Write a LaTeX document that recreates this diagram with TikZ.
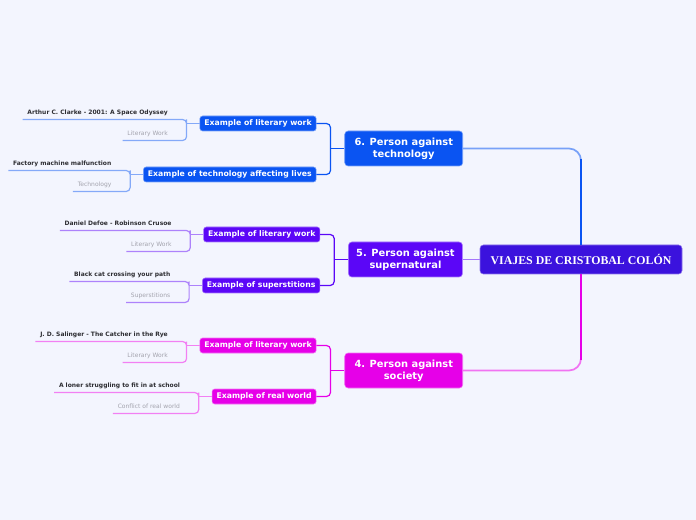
\documentclass[tikz,border=0pt]{standalone}
\usepackage{fontspec}
\setmainfont{DejaVu Sans}
\newfontfamily\rootfont{Liberation Serif}
\usepackage{tikz}
\usetikzlibrary{positioning, calc}

\definecolor{bgcol}{HTML}{F3F5FE}
\definecolor{rootcol}{HTML}{3B12DD}
\definecolor{techcol}{HTML}{0A54F2}
\definecolor{supcol}{HTML}{5B06F7}
\definecolor{soccol}{HTML}{E600E8}
\definecolor{leafcol}{HTML}{2E2E33}
\definecolor{notecol}{HTML}{A3A3AD}

\begin{document}
\begin{tikzpicture}[
      x=0.75pt, y=-0.75pt,
      rootbox/.style={rectangle, rounded corners=2.5pt, draw=rootcol!60!white,
                      line width=0.4pt, fill=rootcol, text=white,
                      font=\rootfont\bfseries\fontsize{8.9}{10}\selectfont,
                      minimum width=151.5pt, minimum height=21.75pt},
      topic/.style={rectangle, rounded corners=2.5pt, draw=#1!55!white,
                    line width=0.4pt, fill=#1, text=white, align=center,
                    font=\bfseries\fontsize{7.4}{9}\selectfont,
                    minimum height=26.25pt, anchor=east},
      subtopic/.style={rectangle, rounded corners=2pt, draw=#1!55!white,
                       line width=0.4pt, fill=#1, text=white,
                       font=\bfseries\fontsize{5.8}{7}\selectfont,
                       minimum height=11.25pt, inner xsep=3.4pt,
                       inner ysep=0pt, anchor=east},
      leaf/.style={font=\bfseries\fontsize{4.5}{5.5}\selectfont, text=leafcol,
                   inner xsep=3.4pt, inner ysep=2.5pt, text depth=1.2pt,
                   anchor=south east},
      note/.style={leaf, font=\fontsize{4.5}{5.5}\selectfont, text=notecol},
      trunk/.style={draw=#1!55!white, line width=1.3pt, rounded corners=9pt},
      stem/.style={draw=#1, line width=2pt},
      branch/.style={draw=#1, line width=0.9pt, rounded corners=3pt},
      twig/.style={draw=#1!50!white, line width=0.9pt, rounded corners=3pt}
  ]
      \fill [bgcol] (0,0) rectangle (696,520);
      \useasboundingbox (0,0) rectangle (696,520);

      \node (root) [rootbox] at (581,259.5) {VIAJES DE CRISTOBAL COLÓN};

      \node (p6) [topic=techcol, minimum width=88.5pt] at (463,148.5)
          {6. Person against\\technology};
      \node (p5) [topic=supcol, minimum width=85.5pt, left=12.75pt of root]
          {5. Person against\\supernatural};
      \node (p4) [topic=soccol, minimum width=88.5pt] at (463,370.5)
          {4. Person against\\society};

      % second level
      \node (lit6)  [subtopic=techcol] at ($(p6.west)+(-28,-25)$) {Example of literary work};
      \node (tech6) [subtopic=techcol] at ($(p6.west)+(-28,26)$)
          {Example of technology affecting lives};
      \node (lit5)  [subtopic=supcol] at ($(p5.west)+(-28,-25)$) {Example of literary work};
      \node (sup5)  [subtopic=supcol] at ($(p5.west)+(-28,26)$) {Example of superstitions};
      \node (lit4)  [subtopic=soccol] at ($(p4.west)+(-28,-25)$) {Example of literary work};
      \node (real4) [subtopic=soccol] at ($(p4.west)+(-28,26)$) {Example of real world};

      % leaves
      \node (clarke)   [leaf] at ($(lit6.west)+(-27,-4)$)
          {Arthur C. Clarke - 2001: A Space Odyssey};
      \node (litnote6) [note] at ($(lit6.west)+(-27,17)$) {Literary Work};
      \node (factory)  [leaf] at ($(tech6.west)+(-27,-4)$) {Factory machine malfunction};
      \node (technote) [note] at ($(tech6.west)+(-27,17)$) {Technology};
      \node (defoe)    [leaf] at ($(lit5.west)+(-27,-4)$) {Daniel Defoe - Robinson Crusoe};
      \node (litnote5) [note] at ($(lit5.west)+(-27,17)$) {Literary Work};
      \node (blackcat) [leaf] at ($(sup5.west)+(-27,-4)$) {Black cat crossing your path};
      \node (supnote)  [note] at ($(sup5.west)+(-27,17)$) {Superstitions};
      \node (salinger) [leaf] at ($(lit4.west)+(-27,-4)$)
          {J. D. Salinger - The Catcher in the Rye};
      \node (litnote4) [note] at ($(lit4.west)+(-27,17)$) {Literary Work};
      \node (loner)    [leaf] at ($(real4.west)+(-27,-4)$)
          {A loner struggling to fit in at school};
      \node (realnote) [note] at ($(real4.west)+(-27,17)$) {Conflict of real world};

      % junctions
      \coordinate (split6) at ([xshift=-10.5pt]p6.west);
      \coordinate (split5) at ([xshift=-10.5pt]p5.west);
      \coordinate (split4) at ([xshift=-10.5pt]p4.west);
      \coordinate (fork_lit6)  at ([xshift=-9.75pt]lit6.west);
      \coordinate (fork_tech6) at ([xshift=-9.75pt]tech6.west);
      \coordinate (fork_lit5)  at ([xshift=-9.75pt]lit5.west);
      \coordinate (fork_sup5)  at ([xshift=-9.75pt]sup5.west);
      \coordinate (fork_lit4)  at ([xshift=-9.75pt]lit4.west);
      \coordinate (fork_real4) at ([xshift=-9.75pt]real4.west);
      \coordinate (bend6) at ([yshift=-8pt]root.north |- p6.east);
      \coordinate (bend4) at ([yshift=8pt]root.south |- p4.east);

      % root to topics
      \draw [trunk=techcol] (root.north) |- (p6.east);
      \draw [stem=techcol] (root.north) -- (bend6);
      \draw [trunk=supcol] (root.west) -- (p5.east);
      \draw [trunk=soccol] (root.south) |- (p4.east);
      \draw [stem=soccol] (root.south) -- (bend4);

      % topics to examples
      \draw [branch=techcol] (p6.west) -- (split6);
      \draw [branch=techcol] (lit6.east) -| (split6) |- (tech6.east);
      \draw [branch=supcol] (p5.west) -- (split5);
      \draw [branch=supcol] (lit5.east) -| (split5) |- (sup5.east);
      \draw [branch=soccol] (p4.west) -- (split4);
      \draw [branch=soccol] (lit4.east) -| (split4) |- (real4.east);

      % examples to leaves
      \draw [twig=techcol] (lit6.west) -- (fork_lit6);
      \draw [twig=techcol] (clarke.south west) -| (fork_lit6) |- (litnote6.south west);
      \draw [twig=techcol] (tech6.west) -- (fork_tech6);
      \draw [twig=techcol] (factory.south west) -| (fork_tech6) |- (technote.south west);
      \draw [twig=supcol] (lit5.west) -- (fork_lit5);
      \draw [twig=supcol] (defoe.south west) -| (fork_lit5) |- (litnote5.south west);
      \draw [twig=supcol] (sup5.west) -- (fork_sup5);
      \draw [twig=supcol] (blackcat.south west) -| (fork_sup5) |- (supnote.south west);
      \draw [twig=soccol] (lit4.west) -- (fork_lit4);
      \draw [twig=soccol] (salinger.south west) -| (fork_lit4) |- (litnote4.south west);
      \draw [twig=soccol] (real4.west) -- (fork_real4);
      \draw [twig=soccol] (loner.south west) -| (fork_real4) |- (realnote.south west);
  \end{tikzpicture}
\end{document}
